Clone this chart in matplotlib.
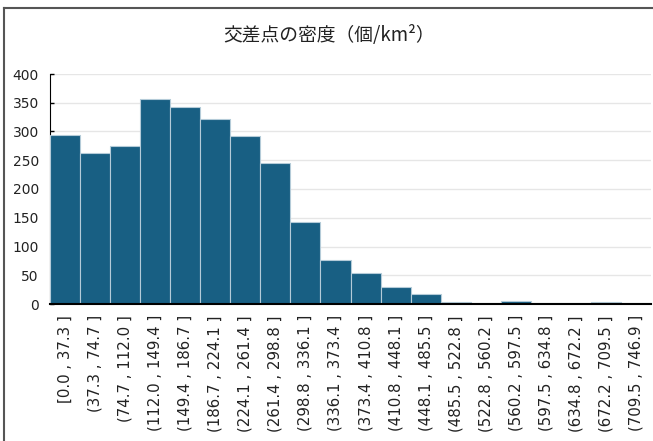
import matplotlib
matplotlib.use('Agg')
from matplotlib import pyplot as plt
from matplotlib.lines import Line2D

# bin edges and counts
edges = [0.0, 37.3, 74.7, 112.0, 149.4, 186.7, 224.1, 261.4, 298.8, 336.1, 373.4,
         410.8, 448.1, 485.5, 522.8, 560.2, 597.5, 634.8, 672.2, 709.5, 746.9]
counts = [294, 263, 275, 356, 342, 322, 293, 246, 143, 76,
          54, 29, 18, 3, 2, 5, 2, 1, 3, 1]
title = '交差点の密度（個/km²）'

labels = []
for i in range(len(counts)):
    left = '[' if i == 0 else '('
    labels.append(f'{left}{edges[i]:.1f} , {edges[i + 1]:.1f} ]')

plt.rcParams['font.family'] = ['DejaVu Sans']

fig = plt.figure(figsize=(6.53, 4.41), dpi=100)
ax = fig.add_axes([50 / 653, 1 - 304 / 441, 601 / 653, 230 / 441])

x = list(range(len(counts)))
ax.bar(x, counts, width=1.0, color='#185f83', edgecolor='#b4cbd8', linewidth=0.8, zorder=3)

ax.set_xlim(-0.5, len(counts) - 0.5)
ax.set_ylim(0, 400)
ax.set_yticks(range(0, 401, 50))
ax.set_xticks(x)
ax.set_xticklabels(labels, rotation=90, fontsize=10.8, va='top', ha='center', color='#222222')
ax.tick_params(axis='x', length=0, pad=8)
ax.tick_params(axis='y', direction='in', length=3, width=1, labelsize=10, pad=8, labelcolor='#222222')

ax.grid(axis='y', color='#e6e6e6', linewidth=1, zorder=0)
ax.set_axisbelow(True)
for s in ['top', 'right']:
    ax.spines[s].set_visible(False)
ax.spines['left'].set_color('black')
ax.spines['bottom'].set_color('black')
ax.spines['bottom'].set_linewidth(1.5)
ax.spines['bottom'].set_zorder(4)

fig.text(329 / 653, 1 - 35 / 441, title, ha='center', va='center', fontsize=13.5,
         color='#222222', family=['Noto Sans CJK JP', 'DejaVu Sans'])

# frame around the chart: only the left and top edges show in the original
fy = 1 - 8 / 441
fx = 4 / 653
fig.add_artist(Line2D([fx, fx], [0, fy], transform=fig.transFigure, color='#555555', linewidth=1.5))
fig.add_artist(Line2D([fx, 1], [fy, fy], transform=fig.transFigure, color='#555555', linewidth=1.5))

fig.savefig('out.png', dpi=100)
